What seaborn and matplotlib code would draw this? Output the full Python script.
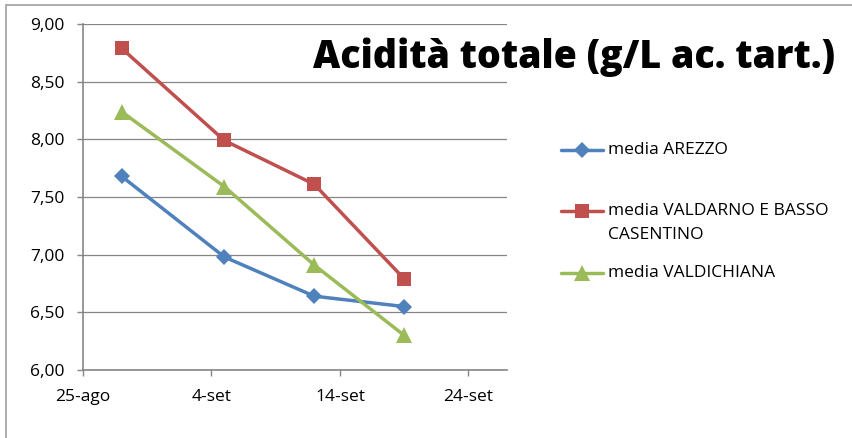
import matplotlib
matplotlib.use("Agg")
import matplotlib.pyplot as plt
import matplotlib.dates as mdates
from matplotlib.lines import Line2D
from matplotlib.patches import Rectangle
from matplotlib.ticker import FuncFormatter, FixedLocator
import seaborn as sns
import pandas as pd

# ---- data ----
dates = ["2012-08-28", "2012-09-05", "2012-09-12", "2012-09-19"]
series_names = ["media AREZZO", "media VALDARNO E BASSO\nCASENTINO", "media VALDICHIANA"]
arezzo = [7.68, 6.98, 6.64, 6.55]
valdarno = [8.79, 7.99, 7.61, 6.79]
valdichiana = [8.24, 7.59, 6.91, 6.30]
xtick_dates = ["2012-08-25", "2012-09-04", "2012-09-14", "2012-09-24"]
xtick_labels = ["25-ago", "4-set", "14-set", "24-set"]
ytick_values = [6.0, 6.5, 7.0, 7.5, 8.0, 8.5, 9.0]
title = "Acidità totale (g/L ac. tart.)"

colors = ["#4F81BD", "#C0504D", "#9BBB59"]
markers = ["D", "s", "^"]
msizes = [8.5, 10, 12]

sns.set_theme(style="white")
plt.rcParams["font.family"] = ["Open Sans", "DejaVu Sans"]

fig = plt.figure(figsize=(8.52, 4.38), dpi=100)
ax = fig.add_axes([83 / 852, 1 - 370 / 438, (507 - 83) / 852, (370 - 24) / 438])

values = [arezzo, valdarno, valdichiana]
for name, vals, c, m, ms in zip(series_names, values, colors, markers, msizes):
    df = pd.DataFrame({"date": pd.to_datetime(dates), "val": vals})
    sns.lineplot(data=df, x="date", y="val", ax=ax, color=c, linewidth=2.5,
                 marker=m, markersize=ms, markeredgewidth=0, legend=False)

ax.set_xlim(pd.Timestamp("2012-08-25"), pd.Timestamp("2012-09-27"))
ax.set_ylim(6.0, 9.0)
ax.set_xlabel("")
ax.set_ylabel("")

ax.yaxis.set_major_locator(FixedLocator(ytick_values))
ax.yaxis.set_major_formatter(FuncFormatter(lambda v, p: f"{v:.2f}".replace(".", ",")))
ax.set_xticks(mdates.date2num(pd.to_datetime(xtick_dates)))
ax.set_xticklabels(xtick_labels)

gray = "#868686"
ax.grid(axis="y", color=gray, linewidth=0.9)
ax.grid(axis="x", visible=False)
ax.set_axisbelow(True)
for s in ["top", "right"]:
    ax.spines[s].set_visible(False)
for s in ["left", "bottom"]:
    ax.spines[s].set_color(gray)
    ax.spines[s].set_linewidth(1.2)
ax.tick_params(axis="both", which="major", direction="out", length=4.5, width=1,
               color=gray, labelsize=12.5, labelcolor="#000000")
ax.tick_params(axis="y", pad=9)
ax.tick_params(axis="x", pad=9)
ax.yaxis.set_ticks_position("left")
ax.xaxis.set_ticks_position("bottom")

# title
fig.text(313 / 852, 1 - 68 / 438, title, ha="left", va="baseline",
         fontsize=27, fontweight="heavy", color="#000000")

# legend (manual, mimicking Excel layout)
leg_y = [150, 211, 273]
for (name, c, m, ms, y) in zip(series_names, colors, markers, msizes, leg_y):
    yf = 1 - y / 438
    fig.add_artist(Line2D([561 / 852, 603 / 852], [yf, yf], transform=fig.transFigure,
                          color=c, linewidth=2.5))
    fig.add_artist(Line2D([582 / 852], [yf], transform=fig.transFigure, color=c,
                          marker=m, markersize=ms, markeredgewidth=0, linestyle="none"))
    for i, ln in enumerate(name.split("\n")):
        fig.text(608 / 852, 1 - (y + i * 24) / 438, ln, ha="left", va="center",
                 fontsize=12.5, color="#000000")

# outer border
fig.add_artist(Rectangle((6 / 852, -0.1), 1.2, 1 - 5 / 438 + 0.1, transform=fig.transFigure,
                         fill=False, edgecolor="#A6A6A6", linewidth=1.3))

fig.savefig("out.png", dpi=100)
